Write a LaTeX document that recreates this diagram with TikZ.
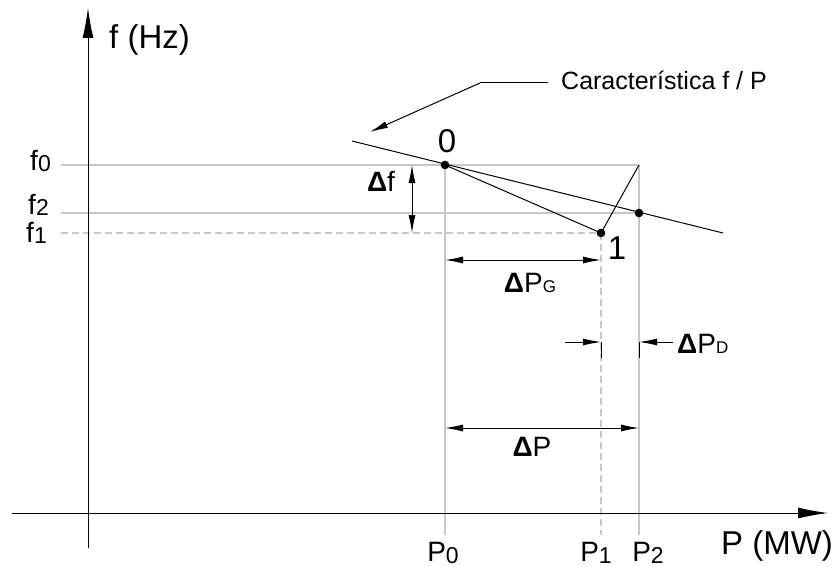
\documentclass[tikz,border=0pt]{standalone}
\usepackage{fontspec}
\setmainfont{Liberation Sans}
\usetikzlibrary{arrows.meta}
\newcommand{\subnum}[1]{\raisebox{-1.5pt}{\fontsize{23}{23}\selectfont #1}}
\newcommand{\sublet}[1]{{\fontsize{17}{17}\selectfont #1}}
\newcommand{\Dl}{\textbf{Δ}}
\begin{document}
\begin{tikzpicture}[x=1pt,y=-1pt,
        rejilla/.style={draw=black!22, line width=1.3pt},
        rejilladash/.style={rejilla, dash pattern=on 7pt off 4pt},
        curva/.style={draw=black, line width=1pt},
        cota/.style={curva, -{Latex[length=18pt,width=7pt]}},
        cotados/.style={curva, {Latex[length=18pt,width=7pt]}-{Latex[length=18pt,width=7pt]}},
        eje/.style={curva, -{Latex[length=30pt,width=11pt]}},
        etiq/.style={inner sep=0pt, font=\fontsize{28}{32}\selectfont},
        grande/.style={inner sep=0pt, font=\fontsize{33}{37}\selectfont},
        nota/.style={inner sep=0pt, font=\fontsize{25}{29}\selectfont}]
        \useasboundingbox (0,0) rectangle (838,567);

        % Puntos de trabajo
        \coordinate (p0) at (445,165);
        \coordinate (p1) at (601,233);
        \coordinate (p2) at (639,213);
        \coordinate (esq) at (639,165);
        \coordinate (carA) at (352,141);
        \coordinate (carB) at (723,233);

        % Rejilla
        \coordinate (f0i) at (61,165);
        \coordinate (f2i) at (61,213);
        \coordinate (f1i) at (61,233);
        \coordinate (P0b) at (445,535);
        \coordinate (P1b) at (601,535);
        \coordinate (P2b) at (639,535);
        \draw[rejilla] (f0i) -- (esq);
        \draw[rejilla] (f2i) -- (p2);
        \draw[rejilladash] (f1i) -- (p1);
        \draw[rejilla] (p0) -- (P0b);
        \draw[rejilladash] (p1) -- (P1b);
        \draw[rejilla] (esq) -- (P2b);

        % Ejes
        \coordinate (ejeV0) at (88,548);
        \coordinate (ejeV1) at (88,8);
        \coordinate (ejeH0) at (12,513);
        \coordinate (ejeH1) at (828,513);
        \draw[eje] (ejeV0) -- (ejeV1);
        \draw[eje] (ejeH0) -- (ejeH1);
        \node[grande, anchor=west] (fHz) at (109,40) {f (Hz)};
        \node[grande, anchor=west] (PMW) at (721,546) {P (MW)};

        % Etiquetas de los ejes
        \node[etiq, anchor=east] (lf0) at (51,161) {f\subnum{0}};
        \node[etiq, anchor=east] (lf2) at (49,205) {f\subnum{2}};
        \node[etiq, anchor=east] (lf1) at (47,233) {f\subnum{1}};
        \node[etiq] (lP0) at (443,553) {P\subnum{0}};
        \node[etiq] (lP1) at (596,553) {P\subnum{1}};
        \node[etiq] (lP2) at (648,553) {P\subnum{2}};

        % Caracteristica y recta de transicion
        \draw[curva] (carA) -- (carB);
        \draw[curva] (p0) -- (p1) -- (esq);
        \fill (p0) circle (4.3);
        \fill (p1) circle (4.3);
        \fill (p2) circle (4.3);
        \node[grande] (l0) at (447,141) {0};
        \node[grande] (l1) at (617,248) {1};

        % Nota
        \node[nota, anchor=west] (nota) at (561,80) {Característica f / P};
        \coordinate (codo) at (480,83);
        \coordinate (flecha) at (370,132);
        \draw[curva] (nota.west) ++(-13,3) -- (codo);
        \draw[cota] (codo) -- (flecha);

        % Cotas
        \coordinate (dfA) at (412,165);
        \coordinate (dfB) at (412,233);
        \draw[cotados] (dfA) -- (dfB);
        \node[etiq] (ldf) at (381,181) {\Dl f};

        \coordinate (dgA) at (445,260);
        \coordinate (dgB) at (601,260);
        \draw[cotados] (dgA) -- (dgB);
        \node[etiq] (ldg) at (530,283) {\Dl P\sublet{G}};

        \coordinate (ddA) at (601,342);
        \coordinate (ddB) at (639,342);
        \draw[cota] (ddA) ++(-36,0) -- (ddA);
        \draw[cota] (ddB) ++(34,0) -- (ddB);
        \draw[curva] (ddA) -- ++(0,16);
        \draw[curva] (ddB) -- ++(0,16);
        \node[etiq, anchor=west] (ldd) at (677,344) {\Dl P\sublet{D}};

        \coordinate (dpA) at (445,428);
        \coordinate (dpB) at (639,428);
        \draw[cotados] (dpA) -- (dpB);
        \node[etiq] (ldp) at (532,447) {\Dl P};
    \end{tikzpicture}
\end{document}
